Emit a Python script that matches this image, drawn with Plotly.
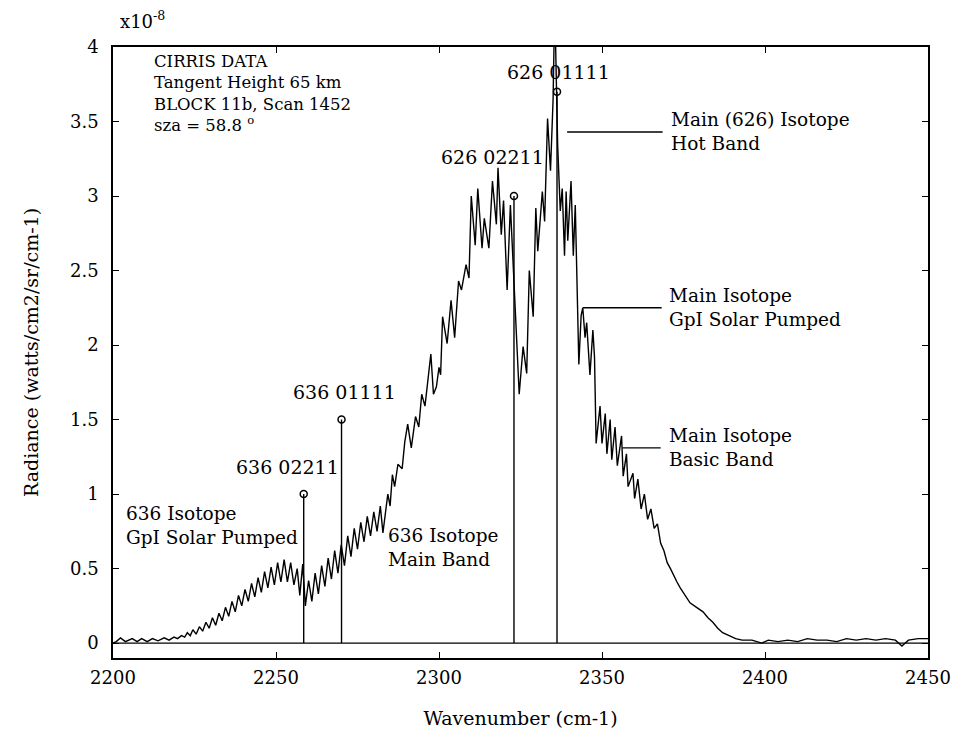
import plotly.graph_objects as go

# ---------------- data ----------------
wavenumber = [
    2200.0, 2201.0, 2202.3, 2203.8, 2205.9, 2207.4, 2208.8, 2210.5, 2212.1, 2213.8,
    2215.7, 2217.2, 2218.7, 2219.8, 2221.0, 2222.0, 2222.8, 2223.7, 2224.5, 2225.5,
    2226.5, 2227.5, 2228.5, 2229.5, 2230.5, 2231.5, 2232.5, 2233.5, 2234.5, 2235.5,
    2236.5, 2237.5, 2238.5, 2239.5, 2240.5, 2241.5, 2242.5, 2243.5, 2244.5, 2245.5,
    2246.5, 2247.5, 2248.5, 2249.5, 2250.5, 2251.5, 2252.5, 2253.5, 2254.5, 2255.5,
    2256.5, 2257.3, 2258.2, 2259.0, 2260.0, 2261.0, 2262.0, 2263.0, 2264.0, 2265.0,
    2266.0, 2267.0, 2268.0, 2269.0, 2270.0, 2271.0, 2272.0, 2273.0, 2274.0, 2275.0,
    2276.0, 2277.0, 2278.0, 2279.0, 2280.0, 2281.0, 2282.0, 2282.8, 2284.3, 2285.0,
    2285.7, 2286.4, 2287.4, 2288.7, 2289.5, 2290.4, 2291.5, 2292.8, 2293.8, 2294.7,
    2295.7, 2296.6, 2297.5, 2298.3, 2299.2, 2300.0, 2300.5, 2301.1, 2302.5, 2303.7,
    2304.8, 2306.0, 2306.9, 2308.3, 2309.2, 2309.9, 2311.1, 2311.9, 2313.2, 2313.9,
    2315.3, 2316.4, 2317.6, 2318.1, 2319.1, 2319.8, 2320.9, 2321.9, 2324.6, 2325.8,
    2326.9, 2327.7, 2328.9, 2329.7, 2330.3, 2331.7, 2332.4, 2333.3, 2334.2, 2335.0,
    2335.5, 2336.4, 2337.2, 2337.8, 2338.5, 2339.0, 2339.5, 2340.5, 2341.2, 2341.8,
    2342.3, 2342.9, 2343.6, 2344.1, 2344.8, 2345.3, 2346.3, 2347.2, 2347.7, 2348.2,
    2349.4, 2350.0, 2351.0, 2351.5, 2352.5, 2353.0, 2354.0, 2354.7, 2356.0, 2356.5,
    2357.5, 2358.0, 2359.5, 2360.0, 2361.0, 2362.0, 2363.0, 2364.0, 2365.0, 2366.0,
    2367.0, 2368.0, 2369.0, 2370.0, 2371.0, 2372.0, 2373.0, 2374.0, 2375.5, 2377.0,
    2379.0, 2381.0, 2382.5, 2384.0, 2385.5, 2387.0, 2389.0, 2391.0, 2393.0, 2396.0,
    2399.0, 2401.0, 2404.0, 2407.0, 2410.0, 2413.0, 2416.0, 2419.0, 2422.0, 2425.0,
    2428.0, 2431.0, 2434.0, 2437.0, 2440.0, 2442.0, 2444.0, 2447.0, 2450.0,
]
radiance = [
    0.00, 0.01, 0.035, 0.01, 0.03, 0.01, 0.03, 0.01, 0.03, 0.015,
    0.035, 0.02, 0.04, 0.03, 0.05, 0.04, 0.07, 0.05, 0.09, 0.06,
    0.11, 0.08, 0.14, 0.10, 0.17, 0.12, 0.20, 0.15, 0.24, 0.18,
    0.28, 0.21, 0.32, 0.25, 0.36, 0.28, 0.40, 0.31, 0.44, 0.34,
    0.48, 0.37, 0.51, 0.39, 0.54, 0.41, 0.56, 0.41, 0.54, 0.39,
    0.50, 0.32, 0.53, 0.25, 0.42, 0.28, 0.47, 0.33, 0.52, 0.38,
    0.57, 0.43, 0.62, 0.47, 0.66, 0.52, 0.72, 0.58, 0.77, 0.63,
    0.81, 0.68, 0.85, 0.72, 0.88, 0.75, 0.92, 0.74, 1.00, 0.92,
    1.13, 1.05, 1.20, 1.17, 1.35, 1.47, 1.31, 1.52, 1.45, 1.67,
    1.59, 1.78, 1.94, 1.67, 1.72, 1.85, 1.80, 2.19, 2.01, 2.30,
    2.05, 2.43, 2.37, 2.54, 2.45, 3.00, 2.67, 3.05, 2.65, 2.85,
    2.65, 3.10, 2.81, 3.19, 2.74, 2.97, 2.37, 2.94, 1.67, 1.99,
    1.81, 2.50, 2.19, 2.92, 2.63, 3.03, 2.83, 3.52, 3.17, 3.65,
    4.30, 3.34, 2.90, 3.05, 2.60, 3.03, 2.70, 3.10, 2.60, 2.94,
    2.45, 1.87, 2.20, 2.25, 2.05, 2.15, 1.80, 2.10, 1.92, 1.34,
    1.59, 1.34, 1.54, 1.27, 1.50, 1.23, 1.45, 1.19, 1.39, 1.12,
    1.27, 1.05, 1.14, 0.97, 1.10, 0.90, 1.00, 0.83, 0.90, 0.77,
    0.80, 0.67, 0.62, 0.54, 0.50, 0.45, 0.41, 0.37, 0.32, 0.27,
    0.24, 0.21, 0.17, 0.14, 0.10, 0.07, 0.05, 0.03, 0.02, 0.02,
    0.00, 0.02, 0.01, 0.02, 0.01, 0.03, 0.02, 0.02, 0.01, 0.03,
    0.02, 0.03, 0.02, 0.03, 0.02, -0.02, 0.02, 0.03, 0.03,
]

stem_x = [2258.5, 2270.1, 2323.0, 2336.2]
stem_y = [1.0, 1.5, 3.0, 3.7]
stem_labels = ["636 02211", "636 01111", "626 02211", "626 01111"]
stem_label_x = [2253.4, 2270.9, 2316.5, 2336.6]
stem_label_y = [1.185, 1.684, 3.26, 3.835]

# band descriptions: (text, left x, centre y)
band_texts = [
    ("636 Isotope<br>GpI Solar Pumped", 2203.5, 0.786),
    ("636 Isotope<br>Main Band", 2283.7, 0.639),
    ("Main (626) Isotope<br>Hot Band", 2370.5, 3.435),
    ("Main Isotope<br>GpI Solar Pumped", 2370.0, 2.255),
    ("Main Isotope<br>Basic Band", 2369.8, 1.31),
]
# leader lines: (x start, x end, y)
leaders = [
    (2339.3, 2368.6, 3.43),
    (2344.1, 2368.3, 2.25),
    (2356.3, 2368.0, 1.31),
]

info_text = ("CIRRIS DATA<br>Tangent Height 65 km<br>BLOCK 11b, Scan 1452<br>"
             "sza = 58.8 <sup>o</sup>")

x_ticks = [2200, 2250, 2300, 2350, 2400, 2450]
y_ticks = [0, 0.5, 1, 1.5, 2, 2.5, 3, 3.5, 4]

FONT = "DejaVu Serif"
BLACK = "black"
fig = go.Figure()

# zero baseline of the stem plot
fig.add_trace(go.Scatter(x=[wavenumber[0], wavenumber[-1]], y=[0, 0], mode="lines",
                         line=dict(color=BLACK, width=1.3), hoverinfo="skip"))

# spectrum
fig.add_trace(go.Scatter(x=wavenumber, y=radiance, mode="lines",
                         line=dict(color=BLACK, width=1.4)))

# stems
sx, sy = [], []
for x, y in zip(stem_x, stem_y):
    sx += [x, x, None]
    sy += [0, y, None]
fig.add_trace(go.Scatter(x=sx, y=sy, mode="lines", line=dict(color=BLACK, width=1.4),
                         hoverinfo="skip"))
fig.add_trace(go.Scatter(x=stem_x, y=stem_y, mode="markers",
                         marker=dict(symbol="circle-open", size=7,
                                     line=dict(color=BLACK, width=1.5), color=BLACK)))

ann = []
for t, x, y in zip(stem_labels, stem_label_x, stem_label_y):
    ann.append(dict(x=x, y=y, xref="x", yref="y", text=t, showarrow=False,
                    xanchor="center", yanchor="middle",
                    font=dict(family=FONT, size=19, color=BLACK)))
for t, x, y in band_texts:
    ann.append(dict(x=x, y=y, xref="x", yref="y", text=t, showarrow=False,
                    xanchor="left", yanchor="middle", align="left",
                    font=dict(family=FONT, size=18.5, color=BLACK)))
ann.append(dict(x=0.048, y=0.924, xref="paper", yref="paper", text=info_text,
                showarrow=False, xanchor="left", yanchor="middle", align="left",
                font=dict(family=FONT, size=16.5, color=BLACK)))
ann.append(dict(x=0.006, y=1.044, xref="paper", yref="paper", text="x10<sup>-8</sup>",
                showarrow=False, xanchor="left", yanchor="middle",
                font=dict(family=FONT, size=18, color=BLACK)))

shapes = [dict(type="line", xref="x", yref="y", x0=a, x1=b, y0=y, y1=y,
               line=dict(color=BLACK, width=1.4)) for a, b, y in leaders]

# the page body adds an 8 px margin, so the figure is sized to fit the window
fig.update_layout(
    width=955, height=730,
    margin=dict(l=105, r=17, t=39, b=75),
    paper_bgcolor="white", plot_bgcolor="white",
    showlegend=False,
    annotations=ann, shapes=shapes,
    font=dict(family=FONT, size=18, color=BLACK),
)
fig.update_xaxes(range=[2200, 2450], tickvals=x_ticks, ticks="inside", ticklen=6,
                 tickwidth=1.2, tickcolor=BLACK, showline=True, linecolor=BLACK,
                 linewidth=1.5, mirror="ticks", showgrid=False, zeroline=False,
                 ticklabeloverflow="allow", ticklabelstandoff=3,
                 tickfont=dict(family=FONT, size=18),
                 title=dict(text="Wavenumber (cm-1)", font=dict(family=FONT, size=19),
                            standoff=24))
fig.update_yaxes(range=[-0.1, 4], tickvals=y_ticks, ticks="inside", ticklen=6,
                 tickwidth=1.2, tickcolor=BLACK, showline=True, linecolor=BLACK,
                 linewidth=1.5, mirror="ticks", showgrid=False, zeroline=False,
                 ticklabelstandoff=9,
                 tickfont=dict(family=FONT, size=18),
                 title=dict(text="Radiance (watts/cm2/sr/cm-1)",
                            font=dict(family=FONT, size=19), standoff=26))

fig.write_html("out.html")
